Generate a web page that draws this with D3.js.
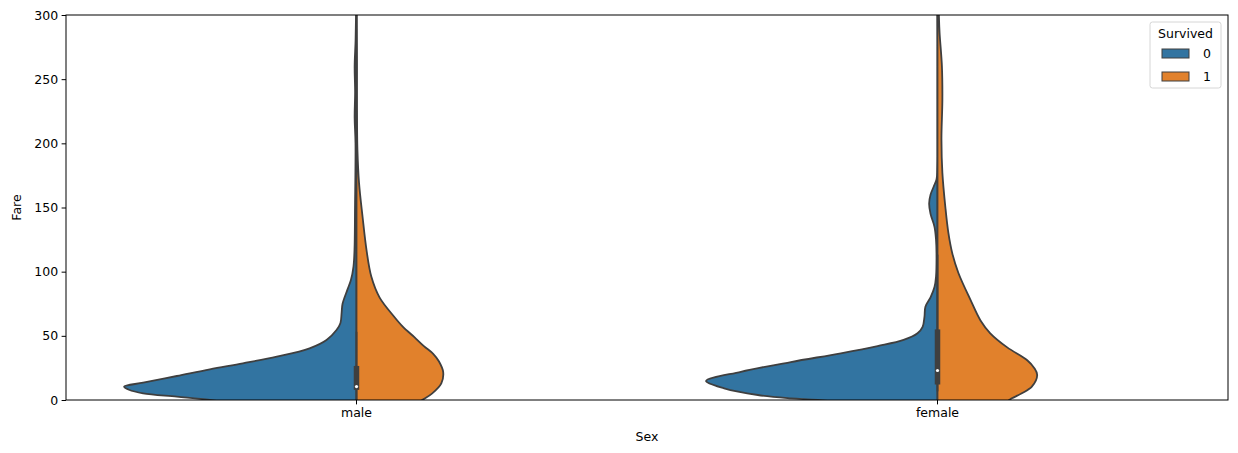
<!DOCTYPE html>
<html><head><meta charset="utf-8">
<script src="https://cdn.jsdelivr.net/npm/d3@7"></script>
<style>body{margin:0;background:#fff}svg{display:block}text{font-family:"DejaVu Sans",sans-serif}</style>
</head><body><svg id="c" width="1238" height="453"></svg>
<script>
const categories = ["male", "female"];
const hues = ["0", "1"];
const yTicks = [0, 50, 100, 150, 200, 250, 300];

// density profiles (fare, relative density)
const maleDiedFare = [-5, 0, 2.6, 5.2, 8, 10.4, 13.5, 18.7, 23.9, 28.6, 33.8, 40.3, 46.8, 54.5, 60, 68, 75, 86, 93.5, 104, 117, 150, 200, 220, 240, 260, 280, 300, 320];
const maleDiedDens = [0.45, 0.631, 0.773, 0.918, 0.979, 1.0, 0.918, 0.773, 0.631, 0.489, 0.343, 0.202, 0.129, 0.086, 0.069, 0.064, 0.060, 0.039, 0.024, 0.013, 0.0086, 0.0064, 0.0043, 0.008, 0.006, 0.008, 0.004, 0.002, 0.002];
const maleSurvFare = [-5, 0, 5.2, 13, 21.8, 30, 36, 42, 49, 57, 64.7, 80, 96, 117, 143, 169, 195, 230, 260, 300, 320];
const maleSurvDens = [0.236, 0.283, 0.326, 0.365, 0.373, 0.355, 0.33, 0.29, 0.249, 0.2, 0.163, 0.099, 0.064, 0.043, 0.026, 0.011, 0.004, 0.002, 0.002, 0.001, 0.001];
const femDiedFare = [-5, 0, 1.3, 3.9, 9.1, 14.8, 22, 29.6, 36.4, 42, 46.8, 52, 57, 65, 72.7, 80, 88, 96, 114, 125, 135, 145, 153, 160, 166, 172, 180, 320];
const femDiedDens = [0.26, 0.515, 0.631, 0.773, 0.918, 0.996, 0.846, 0.631, 0.416, 0.258, 0.146, 0.086, 0.064, 0.056, 0.052, 0.030, 0.013, 0.0064, 0.0043, 0.0064, 0.013, 0.030, 0.036, 0.030, 0.017, 0.004, 0.001, 0.001];
const femSurvFare = [-5, 0, 1.3, 5.2, 10.4, 19.5, 25, 31, 41, 52, 62, 78, 99, 114, 130, 150, 177, 203, 234, 260, 286, 300, 320];
const femSurvDens = [0.27, 0.309, 0.32, 0.363, 0.406, 0.429, 0.416, 0.386, 0.300, 0.227, 0.185, 0.142, 0.090, 0.064, 0.047, 0.034, 0.021, 0.017, 0.021, 0.019, 0.009, 0.006, 0.004];

// box stats: whiskerLow, q1, median, q3, whiskerHigh
const maleBox = [0, 7.9, 10.5, 26.55, 53.1];
const femaleBox = [6.75, 12.07, 23.0, 55.0, 113.3];

const colors = ["#3274a1", "#e1812c"];
const edge = "#3f3f3f";

const W = 1238, H = 453;
const m = {l: 66, r: 10, t: 15, b: 53};
const svg = d3.select("#c");
const x = d3.scaleBand().domain(categories).range([m.l, W - m.r]).padding(0);
const y = d3.scaleLinear().domain([0, 300]).range([H - m.b, m.t]);
const wScale = d3.scaleLinear().domain([0, 1]).range([0, x.bandwidth() * 0.4]);

svg.append("defs").append("clipPath").attr("id", "clip")
  .append("rect").attr("x", m.l).attr("y", m.t).attr("width", W - m.l - m.r).attr("height", H - m.t - m.b);

const g = svg.append("g").attr("clip-path", "url(#clip)");

const halves = [
  {cat: "male", side: -1, fare: maleDiedFare, dens: maleDiedDens, c: colors[0]},
  {cat: "male", side: 1, fare: maleSurvFare, dens: maleSurvDens, c: colors[1]},
  {cat: "female", side: -1, fare: femDiedFare, dens: femDiedDens, c: colors[0]},
  {cat: "female", side: 1, fare: femSurvFare, dens: femSurvDens, c: colors[1]}
];
halves.forEach(h => {
  const cx = x(h.cat) + x.bandwidth() / 2;
  const pts = h.fare.map((f, i) => [f, h.dens[i]]);
  const area = d3.area()
    .y(d => y(d[0]))
    .x0(cx)
    .x1(d => cx + h.side * wScale(d[1]))
    .curve(d3.curveCatmullRom.alpha(0.5));
  g.append("path").attr("d", area(pts))
    .attr("fill", h.c).attr("stroke", edge).attr("stroke-width", 1.8).attr("stroke-linejoin", "round");
});

[[categories[0], maleBox], [categories[1], femaleBox]].forEach(([cat, b]) => {
  const cx = x(cat) + x.bandwidth() / 2;
  g.append("line").attr("x1", cx).attr("x2", cx).attr("y1", y(b[0])).attr("y2", y(b[4]))
    .attr("stroke", edge).attr("stroke-width", 1.8);
  g.append("line").attr("x1", cx).attr("x2", cx).attr("y1", y(b[1])).attr("y2", y(b[3]))
    .attr("stroke", edge).attr("stroke-width", 5.5);
  g.append("circle").attr("cx", cx).attr("cy", y(b[2])).attr("r", 1.6).attr("fill", "#fff");
});

// axes
const yAxis = svg.append("g").attr("transform", `translate(${m.l},0)`)
  .call(d3.axisLeft(y).tickValues(yTicks).tickSize(4.4).tickPadding(3.5));
const xAxis = svg.append("g").attr("transform", `translate(0,${H - m.b})`)
  .call(d3.axisBottom(x).tickSize(4.4).tickPadding(3.5));
[yAxis, xAxis].forEach(a => {
  a.select(".domain").remove();
  a.selectAll("line").attr("stroke", "#000").attr("stroke-width", 1);
  a.selectAll("text").attr("font-size", 12.5).attr("fill", "#000").attr("font-family", "DejaVu Sans");
});
svg.append("rect").attr("x", m.l).attr("y", m.t).attr("width", W - m.l - m.r).attr("height", H - m.t - m.b)
  .attr("fill", "none").attr("stroke", "#000").attr("stroke-width", 1);

svg.append("text").attr("x", (m.l + W - m.r) / 2).attr("y", 441).attr("text-anchor", "middle")
  .attr("font-size", 12.5).text("Sex");
svg.append("text").attr("transform", `translate(21,${(m.t + H - m.b) / 2}) rotate(-90)`).attr("text-anchor", "middle")
  .attr("font-size", 12.5).text("Fare");

// legend
const lg = svg.append("g");
lg.append("rect").attr("x", 1150).attr("y", 22).attr("width", 71).attr("height", 66).attr("rx", 2.5)
  .attr("fill", "#fff").attr("fill-opacity", 0.8).attr("stroke", "#d6d6d6").attr("stroke-width", 1);
lg.append("text").attr("x", 1185.5).attr("y", 38).attr("text-anchor", "middle").attr("font-size", 12.5).text("Survived");
hues.forEach((h, i) => {
  lg.append("rect").attr("x", 1162).attr("y", 49 + i * 23).attr("width", 27).attr("height", 9)
    .attr("fill", colors[i]).attr("stroke", edge).attr("stroke-width", 1);
  lg.append("text").attr("x", 1203).attr("y", 58 + i * 23).attr("font-size", 12.5).text(h);
});
</script></body></html>
